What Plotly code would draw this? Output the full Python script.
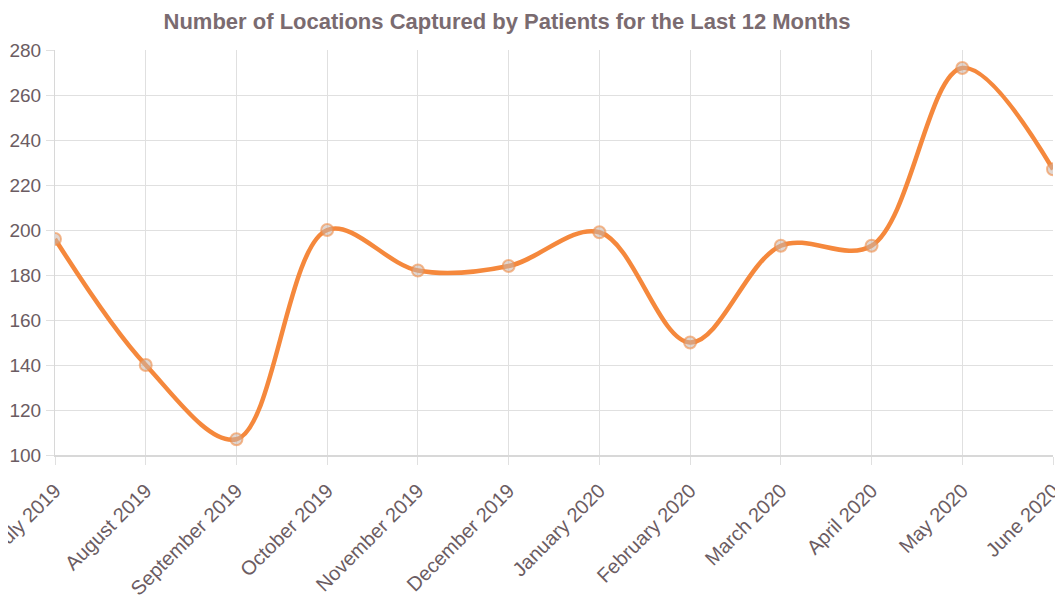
import plotly.graph_objects as go

months = ["July 2019", "August 2019", "September 2019", "October 2019", "November 2019",
          "December 2019", "January 2020", "February 2020", "March 2020", "April 2020",
          "May 2020", "June 2020"]
locations = [196, 140, 107, 200, 182, 184, 199, 150, 193, 193, 272, 227]
y_ticks = [100, 120, 140, 160, 180, 200, 220, 240, 260, 280]

title_text = "Number of Locations Captured by Patients for the Last 12 Months"

label_color = "#6b5c62"
grid_color = "#e0e0e0"

W, H = 1055, 600  # page body adds an 8px offset
L, R, T, B = 47, 10, 42, 153

fig = go.Figure()
fig.add_trace(go.Scatter(
    x=months, y=locations, mode="lines+markers",
    line=dict(color="#f5883c", width=4.5, shape="spline", smoothing=1.0),
    marker=dict(size=12, color="rgba(200,180,170,0.55)",
                line=dict(color="rgba(240,140,70,0.6)", width=2)),
    showlegend=False,
))

fig.update_layout(
    width=W, height=H,
    margin=dict(l=L, r=R, t=T, b=B, autoexpand=False),
    paper_bgcolor="white", plot_bgcolor="white",
    title=dict(text=title_text, x=(507 - 8) / W, xref="container", xanchor="center",
               y=1 - 13 / H, yref="container", yanchor="middle",
               font=dict(family="Liberation Sans, Arial", size=22, color="#7a6b70", weight="bold")),
    font=dict(family="Liberation Sans, Arial", size=19, color=label_color),
)
fig.update_xaxes(
    type="category", range=[0, 11], tickangle=-45, automargin=False,
    showgrid=True, gridcolor=grid_color, gridwidth=1,
    showline=True, linecolor="#d8d8d8", linewidth=2,
    ticks="outside", ticklen=8, tickcolor=grid_color,
    ticklabelstandoff=6,
    tickfont=dict(size=20, color=label_color),
)
fig.update_yaxes(
    range=[100, 280], tickvals=y_ticks, automargin=False,
    showgrid=True, gridcolor=grid_color, gridwidth=1,
    showline=True, linecolor="#d8d8d8", linewidth=1,
    ticks="outside", ticklen=8, tickcolor=grid_color,
    ticklabelstandoff=1,
    tickfont=dict(size=19, color=label_color),
    zeroline=False,
)

fig.write_html("out.html")
